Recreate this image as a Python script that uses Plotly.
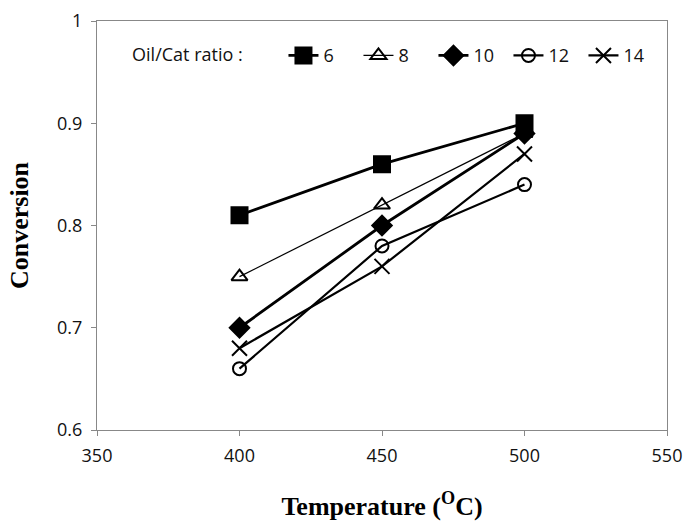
import plotly.graph_objects as go

temperature = [400, 450, 500]
ratio_labels = ["6", "8", "10", "12", "14"]
conv_6 = [0.81, 0.86, 0.90]
conv_8 = [0.75, 0.82, 0.89]
conv_10 = [0.70, 0.80, 0.89]
conv_12 = [0.66, 0.78, 0.84]
conv_14 = [0.68, 0.76, 0.87]
x_ticks = [350, 400, 450, 500, 550]
y_ticks = [0.6, 0.7, 0.8, 0.9, 1.0]
y_tick_text = ["0.6", "0.7", "0.8", "0.9", "1"]

series = [
    (conv_6, "square", 16, 2.8, "black"),
    (conv_8, "triangle-up-open", 14, 1.2, "black"),
    (conv_10, "diamond", 15, 2.8, "black"),
    (conv_12, "circle-open", 13, 2.2, "black"),
    (conv_14, "x-thin-open", 15, 2.2, "black"),
]

fig = go.Figure()
for (vals, sym, size, lw, col), name in zip(series, ratio_labels):
    fig.add_trace(go.Scatter(
        x=temperature, y=vals, name=name, mode="lines+markers",
        line=dict(color=col, width=lw),
        marker=dict(symbol=sym, size=size, color=col,
                    line=dict(color=col, width=2)),
    ))

axis_font = dict(family="Open Sans, DejaVu Sans, sans-serif", size=18, color="#111")
legend_font = dict(family="Open Sans, sans-serif", size=18, color="#111")
title_font = dict(family="Liberation Serif, serif", size=26, color="black")
fig.update_layout(
    width=684, height=521,
    margin=dict(l=97, r=17, t=21, b=91),
    paper_bgcolor="white", plot_bgcolor="white",
    showlegend=True,
    legend=dict(
        orientation="h", x=0.058, y=0.915, xanchor="left", yanchor="middle",
        title=dict(text="Oil/Cat ratio :" + "\u00a0" * 7, side="left", font=legend_font),
        font=legend_font, entrywidth=30, entrywidthmode="pixels",
        bgcolor="rgba(0,0,0,0)", itemwidth=30, tracegroupgap=0,
    ),
    xaxis=dict(
        range=[350, 550], tickvals=x_ticks, ticks="outside", ticklen=5,
        tickcolor="#888", showline=True, linecolor="#888", linewidth=1,
        mirror=True, showgrid=False, zeroline=False, tickfont=axis_font,
        ticklabelstandoff=4, automargin=False,
        title=dict(text="<b>Temperature (<sup>O</sup>C)</b>", standoff=33,
                   font=title_font),
    ),
    yaxis=dict(
        range=[0.6, 1.0], tickvals=y_ticks, ticktext=y_tick_text, ticks="outside",
        ticklen=5, tickcolor="#888", showline=True, linecolor="#888", linewidth=1,
        mirror=True, showgrid=False, zeroline=False, tickfont=axis_font,
        ticklabelstandoff=5, automargin=False,
        title=dict(text="<b>Conversion</b>", standoff=20, font=title_font),
    ),
)
fig.write_html("out.html")
